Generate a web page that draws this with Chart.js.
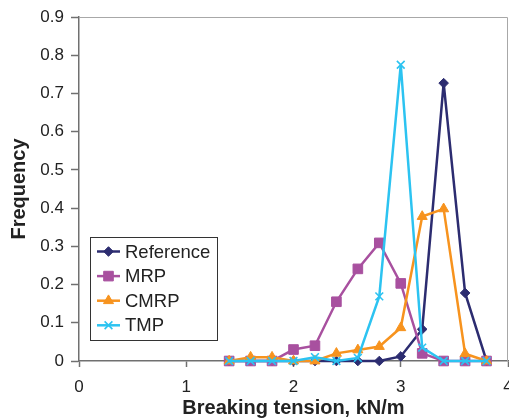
<!DOCTYPE html>
<html><head><meta charset="utf-8">
<script src="https://cdn.jsdelivr.net/npm/chart.js@4/dist/chart.umd.min.js"></script>
<style>html,body{margin:0;padding:0;background:#fff}#wrap{width:509px;height:419px}</style>
</head><body><div id="wrap"><canvas id="c" width="509" height="419"></canvas></div>
<script>
const tensions = [1.4,1.6,1.8,2.0,2.2,2.4,2.6,2.8,3.0,3.2,3.4,3.6,3.8];
const reference = [0,0,0,0,0,0,0,0,0.012,0.083,0.727,0.178,0];
const mrp = [0,0,0,0.03,0.04,0.155,0.241,0.309,0.203,0.02,0,0,0];
const cmrp = [0,0.01,0.01,0,0,0.02,0.029,0.038,0.087,0.378,0.398,0.019,0];
const tmp = [0,0,0,0,0.01,0,0.008,0.169,0.775,0.035,0,0,0];
const seriesNames = ['Reference','MRP','CMRP','TMP'];
const xTicks = [0,1,2,3,4];
const yTicks = [0,0.1,0.2,0.3,0.4,0.5,0.6,0.7,0.8,0.9];

const FONT = "'Liberation Sans', Arial, sans-serif";
const AXIS = '#707070';

function pts(vals){ return tensions.map((x,i)=>({x:x, y:vals[i]})); }
function ds(label, vals, color, style, r, order){
  return {label, data: pts(vals), borderColor: color, backgroundColor: color,
    borderWidth: 2.5, pointStyle: style, pointRadius: r, pointBorderWidth: style==='crossRot'?1.6:1,
    pointBackgroundColor: color, pointBorderColor: color, tension: 0, clip: false, order};
}
const series = [
  ds(seriesNames[0], reference, '#2C2C70', 'rectRot', 4.8, 4),
  ds(seriesNames[1], mrp, '#A8509F', 'rect', 6.8, 3),
  ds(seriesNames[2], cmrp, '#F7931E', 'triangle', 5.8, 2),
  ds(seriesNames[3], tmp, '#2CC3F1', 'crossRot', 5.5, 1)
];

function marker(ctx, d, x, y){
  const dp = Chart.helpers && Chart.helpers.drawPoint;
  ctx.fillStyle = d.pointBackgroundColor; ctx.strokeStyle = d.pointBorderColor;
  ctx.lineWidth = d.pointBorderWidth;
  if (dp) { dp(ctx, {pointStyle: d.pointStyle, radius: d.pointRadius, rotation: 0, borderWidth: d.pointBorderWidth}, x, y); }
}

const frame = {
  id: 'frame',
  beforeDatasetsDraw(chart){
    const {ctx, chartArea: a} = chart;
    ctx.save();
    ctx.strokeStyle = '#a8a8a8'; ctx.lineWidth = 1;
    ctx.beginPath(); ctx.moveTo(a.left, a.top + 0.5); ctx.lineTo(a.right - 0.5, a.top + 0.5); ctx.lineTo(a.right - 0.5, a.bottom);
    ctx.stroke(); ctx.restore();
  }
};

const boxLegend = {
  id: 'boxLegend',
  afterDatasetsDraw(chart){
    const ctx = chart.ctx;
    ctx.save();
    ctx.fillStyle = '#fff'; ctx.fillRect(90.5, 237.5, 127, 103);
    ctx.strokeStyle = '#333'; ctx.lineWidth = 1; ctx.strokeRect(90.5, 237.5, 127, 103);
    chart.data.datasets.forEach((d, i) => {
      const y = 251.5 + i * 24.6;
      ctx.strokeStyle = d.borderColor; ctx.lineWidth = 2.5;
      ctx.beginPath(); ctx.moveTo(97, y); ctx.lineTo(120, y); ctx.stroke();
      marker(ctx, d, 108.5, y);
      ctx.fillStyle = '#222'; ctx.font = '18.5px ' + FONT; ctx.textBaseline = 'middle'; ctx.textAlign = 'left';
      ctx.fillText(d.label, 125, y + 1);
    });
    ctx.restore();
  }
};

new Chart(document.getElementById('c'), {
  type: 'line',
  data: { datasets: series },
  plugins: [frame, boxLegend],
  options: {
    responsive: false, animation: false, devicePixelRatio: 1,
    layout: { autoPadding: false, padding: { top: 17, right: 1, left: 0, bottom: 0 } },
    plugins: { legend: { display: false }, tooltip: { enabled: false } },
    scales: {
      x: {
        type: 'linear', min: 0, max: 4, position: 'bottom',
        afterBuildTicks: s => { s.ticks = xTicks.map(v => ({value: v})); },
        afterFit: s => { s.height = 58; s.paddingLeft = 0; s.paddingRight = 0; },
        ticks: { color: '#222', font: { family: FONT, size: 17 }, padding: 10, maxRotation: 0, autoSkip: false,
          callback: v => String(v) },
        grid: { drawOnChartArea: false, drawTicks: true, tickLength: 6, tickColor: AXIS, tickWidth: 1.5 },
        border: { display: true, color: AXIS, width: 1.5 },
        title: { display: true, text: 'Breaking tension, kN/m', color: '#222',
          font: { family: FONT, size: 20, weight: 'bold' }, padding: { top: 0, bottom: -1 } }
      },
      y: {
        type: 'linear', min: 0, max: 0.9,
        afterBuildTicks: s => { s.ticks = yTicks.map(v => ({value: v})); },
        afterFit: s => { s.width = 79; s.paddingTop = 0; s.paddingBottom = 0; },
        ticks: { color: '#222', font: { family: FONT, size: 17 }, padding: 7, autoSkip: false,
          callback: v => v === 0 ? '0' : (Math.round(v * 10) / 10).toFixed(1) },
        grid: { drawOnChartArea: false, drawTicks: true, tickLength: 8, tickColor: AXIS, tickWidth: 1.5 },
        border: { display: true, color: AXIS, width: 1.5 },
        title: { display: true, text: 'Frequency', color: '#222',
          font: { family: FONT, size: 20, weight: 'bold' }, padding: { top: 7, bottom: 0 } }
      }
    }
  }
});
</script>
</body></html>
